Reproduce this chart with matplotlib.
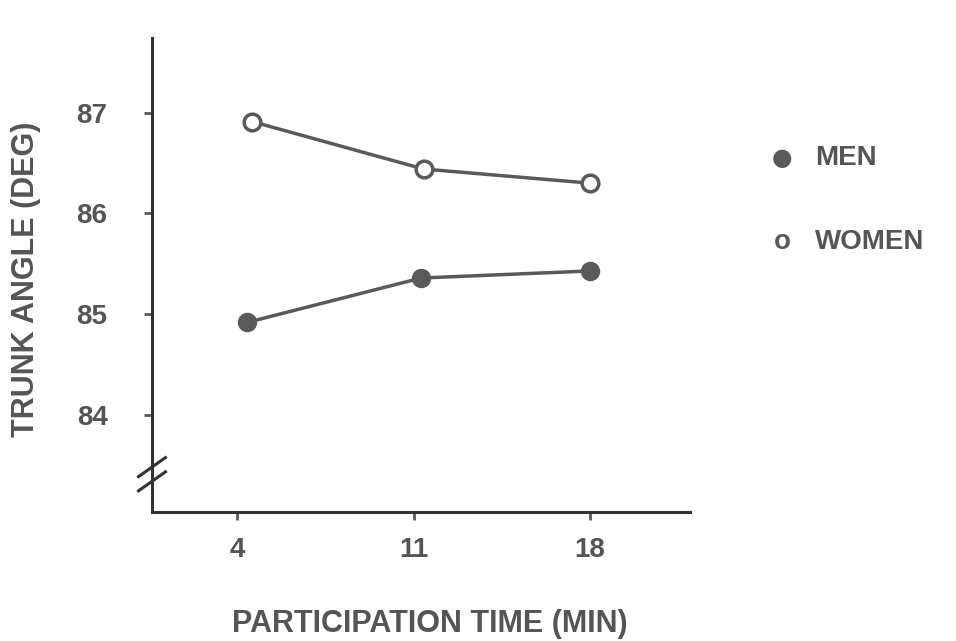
import matplotlib
matplotlib.use("Agg")
import matplotlib.pyplot as plt

# data
men_x = [4.4, 11.3, 18.0]
men_y = [84.92, 85.36, 85.43]
women_x = [4.6, 11.4, 18.0]
women_y = [86.91, 86.44, 86.30]
xticks = [4, 11, 18]
yticks = [84, 85, 86, 87]

plt.rcParams['font.family'] = ['Liberation Sans', 'DejaVu Sans']
col = "#5a5a5a"
tcol = "#555555"
fig = plt.figure(figsize=(9.56, 6.41), dpi=100)
ax = fig.add_axes([0.159, 0.201, 0.563, 0.740])

ax.plot(men_x, men_y, '-o', color=col, lw=2.5, ms=13, mfc=col, mec=col, zorder=3)
ax.plot(women_x, women_y, '-o', color=col, lw=2.5, ms=12, mfc='white', mec=col, mew=2.5, zorder=3)

ax.set_xlim(0.63, 21.97)
ax.set_ylim(83.04, 87.74)
ax.set_xticks(xticks)
ax.set_yticks(yticks)
ax.set_xticklabels([str(v) for v in xticks], fontweight='bold')
ax.set_yticklabels([str(v) for v in yticks], fontweight='bold')
for s in ("top", "right"):
    ax.spines[s].set_visible(False)
for s in ("left", "bottom"):
    ax.spines[s].set_color("#333333")
    ax.spines[s].set_linewidth(2.2)
ax.tick_params(axis='both', colors=col, labelsize=20, width=2, length=6, labelcolor=tcol)
ax.tick_params(axis='x', pad=12)
ax.tick_params(axis='y', pad=26)

fig.text(0.45, 0.027, "PARTICIPATION TIME (MIN)", fontsize=22, color=tcol,
         ha='center', va='center', fontweight='bold')
fig.text(0.027, 0.565, "TRUNK ANGLE (DEG)", fontsize=22, color=tcol,
         ha='center', va='center', rotation=90, fontweight='bold')

# axis break marks
for dy in (0.0, 0.03):
    ax.plot([-0.025, 0.025], [0.045 + dy, 0.085 + dy], transform=ax.transAxes,
            color="#333333", lw=2.2, clip_on=False)

# legend as text
fig.text(0.818, 0.753, "\u25cf", fontsize=17, color=col, ha='center', va='center',
         family='DejaVu Sans')
fig.text(0.853, 0.753, "MEN", fontsize=20, color=tcol, ha='left', va='center', fontweight='bold')
fig.text(0.818, 0.622, "o", fontsize=20, color=col, ha='center', va='center', fontweight='bold')
fig.text(0.853, 0.622, "WOMEN", fontsize=20, color=tcol, ha='left', va='center', fontweight='bold')

fig.savefig("out.png", dpi=100, facecolor='white')
